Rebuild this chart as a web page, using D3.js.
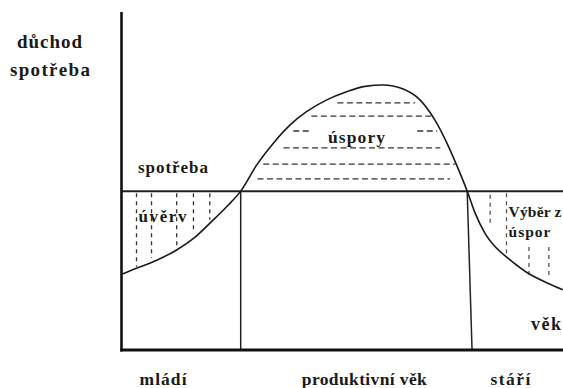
<!DOCTYPE html>
<html>
<head>
<meta charset="utf-8">
<script src="https://cdn.jsdelivr.net/npm/d3@7"></script>
<style>
  html, body { margin: 0; padding: 0; background: #fff; }
  svg { display: block; }
</style>
</head>
<body>
<svg id="chart" width="563" height="388"></svg>
<script>
// ---- data (abstract units: age 0..100, amount 0..100) ----
const incomeAge   = [0, 3.4, 6.8, 12.5, 16.3, 20.4, 24.2, 27, 30.6, 34.4, 38.2, 41.9, 46.5, 51.0, 55.2, 59.2, 63.8, 67.6, 71.0, 74.0, 76.2, 78.3, 80.1, 82.3, 84.6, 87.6, 92.1, 96.7, 100];
const incomeValue = [22.4, 24.2, 25.9, 29.6, 33.0, 38.0, 42.9, 47, 54.7, 61.2, 66.6, 70.5, 74.0, 76.4, 78.0, 78.4, 77.2, 74.0, 68.0, 60.4, 53.8, 47, 40.5, 34.6, 30.6, 27.1, 22.7, 19.7, 17.8];
const consumptionLevel = 47;
// stage boundaries: age at consumption level, age at zero
const boundaryTop = [27.0, 78.3];
const boundaryBottom = [27.0, 79.4];
// savings hatching: level, start age, end age
const savingLevel = [73.1, 69.2, 64.8, 64.8, 59.8, 55, 50.6];
const savingStart = [48.9, 43, 38.9, 67, 36.7, 32.1, 30.8];
const savingEnd   = [66.5, 70.1, 43.2, 71.5, 72.2, 75.6, 74.4];
// credit hatching (youth): age, lower end
const creditAge = [3.4, 6.8, 12.5, 16.3, 20.0];
const creditLow = [24.6, 27.2, 30.6, 35.0, 38.5];
// dissaving hatching (old age): age, upper end, lower end
const dissAge  = [83.5, 87.2, 92.3, 96.8];
const dissHigh = [45.9, 46.4, 30.5, 30.5];
const dissLow  = [37.0, 27.2, 22.2, 22.2];
// stage labels
const stageLabels = ["mládí", "produktivní věk", "stáří"];
const stageLabelAge = [9.4, 55, 88.1];

// ---- scales ----
const svg = d3.select("#chart");
const x = d3.scaleLinear().domain([0, 100]).range([121.5, 563]);
const y = d3.scaleLinear().domain([0, 100]).range([350, 12]);

// hatching: savings
savingLevel.forEach((lv, i) => {
  svg.append("line")
    .attr("x1", x(savingStart[i])).attr("x2", x(savingEnd[i]))
    .attr("y1", y(lv)).attr("y2", y(lv))
    .attr("stroke", "#333").attr("stroke-width", 1.3)
    .attr("stroke-dasharray", "6,3.5");
});
// hatching: credit
creditAge.forEach((a, i) => {
  svg.append("line")
    .attr("x1", x(a)).attr("x2", x(a))
    .attr("y1", y(consumptionLevel) + 2).attr("y2", y(creditLow[i]))
    .attr("stroke", "#333").attr("stroke-width", 1.3)
    .attr("stroke-dasharray", "4,4");
});
// hatching: dissaving
dissAge.forEach((a, i) => {
  svg.append("line")
    .attr("x1", x(a)).attr("x2", x(a))
    .attr("y1", y(dissHigh[i])).attr("y2", y(dissLow[i]))
    .attr("stroke", "#555").attr("stroke-width", 1.3)
    .attr("stroke-dasharray", "4,4");
});

// consumption line
svg.append("line")
  .attr("x1", x(0)).attr("x2", x(100))
  .attr("y1", y(consumptionLevel)).attr("y2", y(consumptionLevel))
  .attr("stroke", "#222").attr("stroke-width", 2);

// stage boundaries
boundaryTop.forEach((a, i) => {
  svg.append("line")
    .attr("x1", x(a)).attr("x2", x(boundaryBottom[i]))
    .attr("y1", y(consumptionLevel)).attr("y2", y(0))
    .attr("stroke", "#222").attr("stroke-width", 1.5);
});

// income curve
const line = d3.line()
  .x((d, i) => x(incomeAge[i]))
  .y((d, i) => y(incomeValue[i]))
  .curve(d3.curveMonotoneX);
svg.append("path")
  .attr("d", line(incomeAge))
  .attr("fill", "none").attr("stroke", "#1a1a1a").attr("stroke-width", 1.6);

// axes
svg.append("line")
  .attr("x1", x(0)).attr("x2", x(0)).attr("y1", y(100)).attr("y2", y(0) + 1.5)
  .attr("stroke", "#111").attr("stroke-width", 2.6);
svg.append("line")
  .attr("x1", x(0) - 1.3).attr("x2", x(100)).attr("y1", y(0)).attr("y2", y(0))
  .attr("stroke", "#111").attr("stroke-width", 3);

// texts
function label(t, px, py, size, anchor, len) {
  const el = svg.append("text").text(t)
    .attr("x", px).attr("y", py)
    .attr("font-family", "'Liberation Serif', 'Times New Roman', serif")
    .attr("font-weight", "bold")
    .attr("fill", "#1a1a1a")
    .attr("font-size", size)
    .attr("text-anchor", anchor || "start");
  if (len) el.attr("textLength", len).attr("lengthAdjust", "spacing");
}
label("důchod", 49.5, 48, 19, "middle", 65);
label("spotřeba", 50, 76, 19, "middle", 80);
label("spotřeba", 173, 173, 17, "middle", 70);
label("úvěrv", 162.5, 222, 17, "middle", 48);
label("úspory", 356.5, 143, 17.5, "middle", 57);
label("Výběr z", 508.5, 217, 15.5, "start", 53);
label("úspor", 508.5, 237, 15.5, "start", 42);
label("věk", 531, 330, 18, "start", 30);
const stageWidths = [47, 125, 40];
stageLabels.forEach((t, i) => label(t, x(stageLabelAge[i]), 385, 17.5, "middle", stageWidths[i]));
</script>
</body>
</html>
